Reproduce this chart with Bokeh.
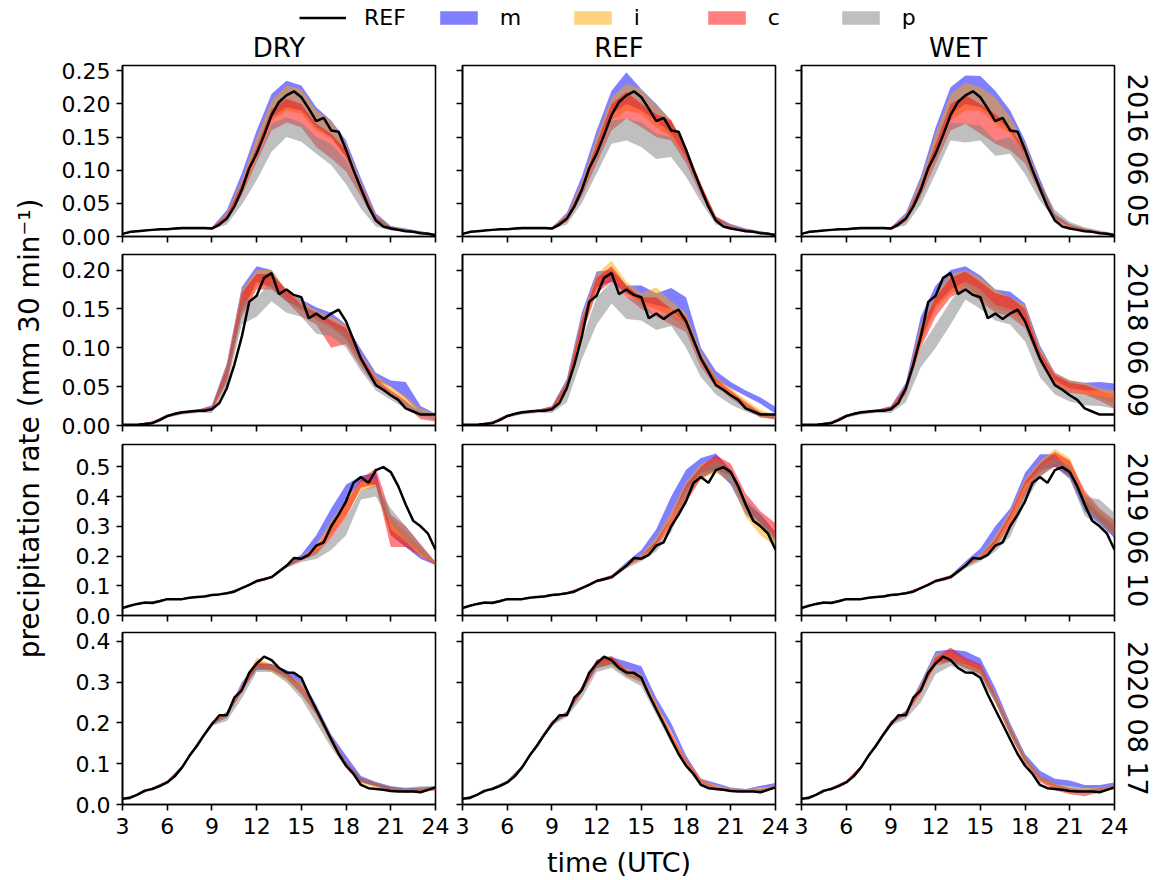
import math
from bokeh.plotting import figure
from bokeh.layouts import row, column
from bokeh.models import Range1d, FixedTicker, NumeralTickFormatter, Legend, LegendItem
from bokeh.embed import file_html
from bokeh.resources import INLINE
from bokeh.core.properties import value

FONT = "DejaVu Sans"

# ---------------- data ----------------
TIME = [3.0 + 0.5 * k for k in range(43)]          # half-hourly, 03..24 UTC
BAND_TIME = [float(h) for h in range(3, 25)]       # hourly, 03..24 UTC
X_TICKS = [3, 6, 9, 12, 15, 18, 21, 24]

EXPERIMENTS = ["DRY", "REF", "WET"]
DATES = ["2016 06 05", "2018 06 09", "2019 06 10", "2020 08 17"]
MEMBERS = ["m", "i", "c", "p"]
MEMBER_COLORS = ["#0000ff", "#ffa500", "#ff0000", "#808080"]

Y_TICKS = [[0, 0.05, 0.10, 0.15, 0.20, 0.25],
           [0, 0.05, 0.10, 0.15, 0.20],
           [0, 0.1, 0.2, 0.3, 0.4, 0.5],
           [0, 0.1, 0.2, 0.3, 0.4]]
Y_FORMATS = ["0.00", "0.00", "0.0", "0.0"]
Y_TOP = [0.258, 0.22, 0.575, 0.422]

REF_2016 = [0.004, 0.007, 0.008, 0.009, 0.010, 0.011, 0.011, 0.012, 0.013, 0.013, 0.013, 0.013, 0.012,
            0.018, 0.027, 0.045, 0.070, 0.103, 0.125, 0.153, 0.183, 0.203, 0.213, 0.219, 0.210, 0.193,
            0.174, 0.179, 0.160, 0.158, 0.131, 0.100, 0.072, 0.045, 0.024, 0.015, 0.012, 0.010, 0.008,
            0.007, 0.005, 0.004, 0.002]
REF_2018 = [0.001, 0.001, 0.001, 0.002, 0.003, 0.007, 0.012, 0.015, 0.017, 0.018, 0.019, 0.019, 0.021,
            0.029, 0.048, 0.078, 0.114, 0.159, 0.167, 0.190, 0.196, 0.169, 0.175, 0.168, 0.165, 0.138,
            0.144, 0.137, 0.144, 0.149, 0.134, 0.110, 0.086, 0.069, 0.052, 0.046, 0.039, 0.033, 0.022,
            0.018, 0.014, 0.014, 0.014]
REF_2019 = [0.025, 0.033, 0.039, 0.044, 0.042, 0.048, 0.055, 0.055, 0.055, 0.060, 0.062, 0.064, 0.069,
            0.071, 0.075, 0.080, 0.092, 0.103, 0.116, 0.122, 0.129, 0.148, 0.167, 0.193, 0.191, 0.204,
            0.235, 0.246, 0.300, 0.339, 0.384, 0.446, 0.466, 0.446, 0.489, 0.499, 0.482, 0.435, 0.373,
            0.319, 0.300, 0.275, 0.221]
REF_2020 = [0.014, 0.016, 0.024, 0.034, 0.038, 0.045, 0.054, 0.069, 0.091, 0.120, 0.144, 0.172, 0.197,
            0.219, 0.219, 0.262, 0.280, 0.323, 0.346, 0.363, 0.354, 0.335, 0.324, 0.323, 0.311, 0.270,
            0.233, 0.197, 0.160, 0.124, 0.095, 0.075, 0.048, 0.040, 0.038, 0.036, 0.033, 0.032, 0.032,
            0.032, 0.030, 0.036, 0.042]

# ensemble envelopes (min, max) at hourly resolution, per date and experiment
B2016_DRY = {
    "m": ([.003,.007,.009,.010,.011,.011,.011,.027,.070,.125,.180,.195,.190,.165,.150,.120,.072,.026,.012,.008,.005,.002],
          [.005,.009,.011,.012,.014,.014,.014,.040,.095,.160,.215,.235,.228,.195,.175,.145,.088,.035,.016,.012,.008,.004]),
    "i": ([.003,.007,.009,.010,.011,.011,.011,.026,.066,.120,.175,.190,.185,.160,.148,.120,.070,.025,.012,.008,.005,.002],
          [.005,.009,.011,.012,.014,.014,.014,.035,.085,.150,.205,.228,.222,.190,.175,.140,.082,.032,.015,.011,.007,.004]),
    "c": ([.003,.007,.009,.010,.011,.011,.011,.024,.062,.112,.160,.172,.165,.135,.118,.098,.060,.022,.010,.007,.005,.002],
          [.005,.009,.011,.012,.014,.014,.014,.032,.080,.135,.192,.208,.200,.170,.155,.130,.078,.030,.014,.010,.007,.004]),
    "p": ([.003,.007,.009,.010,.011,.011,.011,.018,.048,.085,.128,.150,.143,.125,.108,.079,.042,.015,.009,.007,.004,.002],
          [.005,.009,.010,.012,.013,.013,.013,.026,.065,.118,.170,.180,.172,.150,.140,.115,.070,.030,.015,.011,.008,.004]),
}
B2016_REF = {
    "m": ([.003,.007,.009,.010,.011,.011,.011,.026,.068,.125,.185,.200,.190,.175,.155,.120,.070,.025,.015,.009,.005,.002],
          [.005,.009,.011,.012,.014,.014,.014,.036,.090,.160,.220,.248,.222,.200,.175,.132,.076,.030,.019,.012,.008,.004]),
    "i": ([.003,.007,.009,.010,.011,.011,.011,.025,.065,.120,.175,.190,.185,.165,.150,.118,.070,.025,.013,.008,.005,.002],
          [.005,.009,.011,.012,.014,.014,.014,.033,.082,.150,.210,.230,.222,.198,.175,.135,.078,.030,.017,.011,.007,.004]),
    "c": ([.003,.007,.009,.010,.011,.011,.011,.022,.060,.110,.160,.178,.165,.150,.145,.110,.062,.022,.012,.008,.005,.002],
          [.005,.009,.011,.012,.014,.014,.014,.030,.075,.140,.200,.218,.200,.185,.175,.135,.080,.030,.016,.011,.007,.004]),
    "p": ([.003,.007,.009,.010,.011,.011,.011,.018,.050,.095,.140,.145,.135,.117,.120,.090,.052,.018,.010,.007,.004,.002],
          [.005,.009,.010,.012,.013,.013,.013,.025,.066,.120,.175,.178,.172,.155,.150,.120,.070,.026,.015,.011,.008,.004]),
}
B2016_WET = {
    "m": ([.003,.007,.009,.010,.011,.011,.011,.026,.068,.125,.185,.200,.195,.180,.160,.125,.075,.028,.015,.009,.005,.002],
          [.005,.009,.011,.012,.014,.014,.014,.036,.090,.165,.225,.243,.242,.220,.190,.145,.087,.034,.019,.012,.007,.004]),
    "i": ([.003,.007,.009,.010,.011,.011,.011,.025,.066,.120,.175,.190,.190,.170,.155,.120,.072,.027,.014,.009,.005,.002],
          [.005,.009,.011,.012,.014,.014,.014,.033,.085,.155,.215,.232,.225,.210,.180,.140,.082,.033,.018,.012,.008,.004]),
    "c": ([.003,.007,.009,.010,.011,.011,.011,.022,.060,.110,.160,.170,.155,.140,.130,.110,.065,.024,.012,.008,.005,.002],
          [.005,.009,.011,.012,.014,.014,.014,.030,.078,.140,.200,.213,.200,.185,.165,.130,.080,.032,.016,.011,.007,.004]),
    "p": ([.003,.007,.009,.010,.011,.011,.011,.017,.048,.095,.145,.142,.145,.122,.125,.094,.054,.026,.016,.011,.006,.003],
          [.005,.009,.010,.012,.013,.013,.013,.025,.066,.120,.172,.170,.168,.145,.150,.125,.082,.040,.022,.014,.009,.005]),
}

B2018_DRY = {
    "m": ([.001,.001,.003,.011,.015,.017,.020,.060,.148,.185,.178,.160,.150,.138,.128,.112,.082,.058,.050,.035,.015,.010],
          [.001,.002,.005,.014,.018,.020,.026,.080,.178,.205,.200,.172,.162,.152,.145,.130,.098,.068,.058,.056,.025,.015]),
    "i": ([.001,.001,.003,.011,.015,.017,.019,.058,.145,.180,.178,.160,.148,.135,.125,.110,.080,.055,.042,.030,.016,.010],
          [.001,.002,.005,.014,.018,.020,.024,.078,.175,.200,.200,.175,.160,.148,.140,.130,.092,.065,.050,.038,.022,.015]),
    "c": ([.001,.001,.003,.011,.015,.017,.019,.055,.140,.175,.175,.160,.140,.130,.100,.105,.075,.050,.038,.025,.008,.005],
          [.001,.002,.005,.014,.018,.020,.024,.075,.170,.195,.195,.175,.155,.145,.135,.125,.090,.060,.045,.032,.015,.010]),
    "p": ([.001,.001,.003,.010,.014,.016,.016,.050,.130,.140,.160,.145,.140,.118,.115,.100,.070,.045,.033,.022,.012,.008],
          [.001,.002,.005,.013,.017,.019,.020,.070,.160,.165,.185,.165,.155,.140,.130,.120,.085,.058,.042,.030,.018,.012]),
}
B2018_REF = {
    "m": ([.001,.001,.003,.011,.015,.017,.020,.048,.125,.178,.185,.170,.160,.155,.150,.130,.085,.058,.048,.038,.028,.015],
          [.001,.002,.005,.014,.018,.020,.025,.060,.145,.198,.200,.180,.180,.170,.177,.165,.100,.070,.056,.045,.036,.024]),
    "i": ([.001,.001,.003,.011,.015,.017,.019,.047,.120,.175,.190,.170,.155,.150,.140,.125,.080,.052,.038,.025,.012,.008],
          [.001,.002,.005,.014,.018,.020,.024,.058,.140,.195,.212,.185,.170,.178,.160,.145,.095,.063,.048,.033,.020,.014]),
    "c": ([.001,.001,.003,.011,.015,.017,.019,.045,.115,.170,.185,.165,.150,.140,.130,.120,.075,.050,.035,.022,.010,.008],
          [.001,.002,.005,.014,.018,.020,.024,.055,.135,.190,.205,.180,.165,.165,.150,.140,.090,.060,.045,.030,.017,.014]),
    "p": ([.001,.001,.003,.010,.014,.016,.016,.030,.085,.130,.157,.137,.135,.123,.128,.100,.062,.040,.027,.018,.011,.008],
          [.001,.002,.005,.013,.017,.019,.020,.045,.110,.165,.185,.165,.160,.140,.145,.130,.080,.050,.040,.026,.016,.012]),
}
B2018_WET = {
    "m": ([.001,.001,.003,.011,.015,.017,.020,.045,.110,.155,.175,.185,.175,.155,.150,.135,.090,.058,.048,.045,.045,.040],
          [.001,.002,.005,.014,.018,.020,.025,.055,.140,.180,.200,.205,.193,.175,.172,.157,.103,.068,.058,.055,.056,.054]),
    "i": ([.001,.001,.003,.011,.015,.017,.019,.042,.105,.150,.170,.180,.165,.150,.145,.130,.085,.055,.045,.040,.035,.028],
          [.001,.002,.005,.014,.018,.020,.024,.052,.130,.170,.195,.200,.190,.175,.165,.155,.100,.068,.058,.055,.048,.045]),
    "c": ([.001,.001,.003,.011,.015,.017,.019,.040,.100,.140,.165,.175,.160,.145,.140,.125,.080,.050,.042,.040,.032,.022],
          [.001,.002,.005,.014,.018,.020,.024,.050,.125,.165,.190,.198,.185,.170,.165,.150,.095,.065,.055,.052,.045,.040]),
    "p": ([.001,.001,.003,.010,.014,.016,.016,.030,.075,.100,.130,.162,.150,.135,.130,.108,.062,.040,.031,.026,.025,.022],
          [.001,.002,.005,.013,.017,.019,.020,.045,.100,.130,.160,.185,.175,.155,.150,.130,.085,.055,.045,.040,.038,.035]),
}

B2019_DRY = {
    "m": ([.025,.039,.043,.054,.055,.061,.067,.073,.088,.110,.125,.162,.190,.235,.300,.390,.450,.440,.270,.230,.190,.170],
          [.027,.042,.047,.057,.058,.064,.070,.077,.094,.118,.133,.172,.205,.270,.360,.440,.470,.480,.290,.250,.200,.175]),
    "i": ([.025,.039,.043,.054,.055,.061,.067,.073,.090,.113,.127,.163,.185,.210,.270,.340,.420,.430,.270,.240,.200,.170],
          [.027,.042,.047,.057,.058,.064,.070,.077,.094,.119,.133,.170,.195,.240,.320,.390,.450,.460,.330,.280,.230,.180]),
    "c": ([.025,.040,.044,.054,.055,.061,.067,.073,.090,.112,.127,.162,.185,.205,.260,.330,.430,.440,.230,.230,.200,.170],
          [.028,.043,.048,.058,.059,.065,.071,.078,.095,.120,.134,.170,.195,.230,.300,.380,.460,.495,.340,.300,.240,.180]),
    "p": ([.024,.038,.042,.053,.054,.060,.066,.072,.088,.110,.125,.160,.180,.190,.220,.270,.390,.400,.310,.255,.210,.170],
          [.027,.041,.046,.057,.058,.064,.070,.077,.094,.118,.132,.168,.190,.215,.260,.330,.420,.440,.360,.300,.240,.180]),
}
B2019_REF = {
    "m": ([.025,.040,.043,.055,.056,.062,.068,.074,.092,.115,.128,.170,.200,.240,.330,.420,.480,.490,.440,.340,.300,.250],
          [.028,.043,.047,.058,.059,.065,.072,.078,.096,.120,.135,.180,.220,.290,.400,.490,.530,.545,.490,.380,.340,.280]),
    "i": ([.025,.040,.043,.055,.056,.062,.068,.074,.092,.115,.128,.165,.192,.235,.310,.390,.460,.480,.450,.330,.270,.230],
          [.028,.043,.047,.058,.059,.065,.072,.078,.096,.120,.135,.175,.205,.265,.350,.450,.510,.530,.490,.380,.330,.280]),
    "c": ([.025,.040,.043,.055,.056,.062,.068,.074,.092,.115,.128,.165,.190,.230,.300,.380,.460,.490,.470,.360,.310,.260],
          [.028,.043,.047,.058,.059,.065,.072,.078,.096,.120,.135,.172,.200,.250,.330,.440,.500,.540,.510,.410,.350,.310]),
    "p": ([.024,.038,.041,.053,.054,.060,.066,.071,.088,.110,.122,.158,.182,.215,.280,.400,.465,.485,.445,.360,.310,.230],
          [.027,.041,.045,.057,.058,.064,.070,.076,.094,.118,.130,.168,.192,.235,.300,.430,.490,.520,.490,.390,.340,.260]),
}
B2019_WET = {
    "m": ([.025,.040,.043,.055,.056,.062,.068,.074,.092,.115,.128,.170,.200,.245,.330,.440,.490,.500,.460,.350,.310,.260],
          [.028,.043,.047,.058,.059,.065,.072,.078,.096,.120,.135,.182,.225,.300,.360,.480,.542,.542,.490,.390,.340,.300]),
    "i": ([.025,.040,.043,.055,.056,.062,.068,.074,.092,.115,.128,.165,.192,.235,.310,.410,.480,.510,.480,.370,.320,.270],
          [.028,.043,.047,.058,.059,.065,.072,.078,.096,.120,.135,.175,.205,.270,.350,.460,.520,.560,.530,.410,.350,.310]),
    "c": ([.025,.040,.043,.055,.056,.062,.068,.074,.092,.115,.128,.165,.190,.230,.300,.400,.470,.500,.470,.370,.320,.270],
          [.028,.043,.047,.058,.059,.065,.072,.078,.096,.120,.135,.172,.200,.255,.340,.450,.510,.550,.520,.420,.360,.320]),
    "p": ([.024,.038,.041,.053,.054,.060,.066,.071,.088,.110,.122,.158,.182,.215,.265,.380,.465,.505,.460,.335,.300,.265],
          [.027,.041,.045,.057,.058,.064,.070,.076,.094,.118,.130,.168,.195,.240,.300,.420,.500,.530,.500,.400,.390,.345]),
}

B2020_DRY = {
    "m": ([.013,.022,.038,.054,.090,.145,.195,.213,.280,.330,.330,.315,.290,.225,.155,.095,.055,.045,.036,.032,.035,.038],
          [.016,.025,.042,.058,.095,.150,.202,.222,.300,.345,.345,.330,.310,.245,.172,.120,.070,.055,.045,.040,.042,.045]),
    "i": ([.013,.022,.038,.054,.090,.145,.195,.215,.275,.335,.325,.305,.275,.220,.150,.090,.050,.042,.034,.030,.032,.035],
          [.016,.025,.042,.058,.095,.150,.202,.225,.295,.360,.345,.320,.300,.240,.168,.105,.062,.050,.040,.037,.040,.040]),
    "c": ([.013,.022,.038,.054,.090,.145,.197,.220,.275,.335,.330,.310,.270,.220,.150,.090,.055,.045,.035,.028,.030,.035],
          [.016,.025,.042,.058,.095,.150,.204,.228,.290,.350,.345,.325,.290,.240,.165,.105,.065,.052,.042,.036,.038,.042]),
    "p": ([.013,.022,.037,.052,.088,.140,.193,.205,.260,.325,.325,.300,.260,.200,.140,.090,.055,.045,.035,.032,.035,.035],
          [.016,.025,.041,.056,.094,.147,.200,.220,.280,.340,.345,.320,.290,.230,.160,.105,.065,.055,.045,.042,.045,.045]),
}
B2020_REF = {
    "m": ([.013,.022,.038,.054,.090,.145,.197,.220,.275,.335,.345,.330,.315,.245,.180,.108,.058,.046,.038,.036,.040,.045],
          [.016,.025,.042,.058,.095,.150,.205,.228,.290,.355,.362,.351,.339,.262,.200,.120,.063,.053,.042,.038,.046,.053]),
    "i": ([.013,.022,.038,.054,.090,.145,.197,.220,.275,.335,.340,.315,.305,.235,.165,.100,.055,.040,.034,.032,.034,.040],
          [.016,.025,.042,.058,.095,.150,.205,.228,.290,.350,.360,.335,.320,.250,.180,.112,.063,.046,.040,.038,.040,.047]),
    "c": ([.013,.022,.038,.054,.090,.145,.197,.220,.275,.335,.345,.315,.300,.230,.160,.100,.050,.035,.032,.030,.032,.040],
          [.016,.025,.042,.058,.095,.150,.205,.228,.290,.355,.365,.330,.315,.245,.175,.110,.060,.045,.038,.036,.038,.046]),
    "p": ([.013,.022,.037,.052,.088,.140,.193,.215,.260,.325,.335,.310,.290,.220,.150,.090,.045,.036,.032,.032,.032,.038],
          [.016,.025,.041,.056,.094,.147,.200,.225,.275,.345,.350,.330,.310,.235,.165,.100,.055,.042,.038,.036,.038,.045]),
}
B2020_WET = {
    "m": ([.013,.022,.038,.054,.090,.145,.197,.220,.280,.350,.350,.345,.330,.260,.180,.110,.068,.050,.045,.040,.040,.045],
          [.016,.025,.042,.058,.095,.150,.205,.230,.300,.376,.380,.376,.359,.286,.200,.124,.083,.063,.059,.048,.048,.054]),
    "i": ([.013,.022,.038,.054,.090,.145,.197,.220,.275,.345,.350,.335,.320,.255,.175,.105,.060,.040,.033,.030,.032,.040],
          [.016,.025,.042,.058,.095,.150,.205,.228,.295,.370,.375,.355,.340,.275,.195,.120,.072,.050,.042,.040,.042,.046]),
    "c": ([.013,.022,.038,.054,.090,.145,.197,.220,.270,.340,.350,.335,.320,.250,.170,.100,.055,.035,.025,.020,.030,.038],
          [.016,.025,.042,.058,.095,.150,.205,.228,.290,.360,.385,.360,.345,.270,.190,.115,.070,.050,.040,.035,.040,.046]),
    "p": ([.013,.022,.037,.052,.088,.140,.193,.210,.250,.320,.340,.330,.310,.250,.170,.105,.060,.045,.035,.032,.032,.040],
          [.016,.025,.041,.056,.094,.147,.200,.222,.270,.340,.360,.345,.330,.270,.190,.120,.070,.055,.045,.040,.040,.045]),
}

REF_LINES = [REF_2016, REF_2018, REF_2019, REF_2020]
BANDS = [[B2016_DRY, B2016_REF, B2016_WET],
         [B2018_DRY, B2018_REF, B2018_WET],
         [B2019_DRY, B2019_REF, B2019_WET],
         [B2020_DRY, B2020_REF, B2020_WET]]

# ---------------- layout (pixels, page origin at top-left) ----------------
FRAME_W = 313
FRAME_TOP = [65, 254, 444, 632]
FRAME_H = [171, 171, 171, 172]
BORDER_L = [66, 13, 12]
BORDER_R = [14, 14, 14]
BORDER_T = [10, 16, 16, 16]
BORDER_B = [16, 16, 16, 40]
LEFT_W = 56
TOP_H = 63
RIGHT_X0 = 1123
PAGE_W, PAGE_H = 1156, 880
TICK_FONT = "22px"

CANVAS_TOP = [FRAME_TOP[r] - BORDER_T[r] for r in range(4)]
CANVAS_BOT = [FRAME_TOP[r] + FRAME_H[r] + BORDER_B[r] for r in range(4)]
STACK_TOP, STACK_BOT = CANVAS_TOP[0], CANVAS_BOT[3]
STACK_H = STACK_BOT - STACK_TOP
GRID_RIGHT = LEFT_W + sum(BORDER_L) + 3 * FRAME_W + sum(BORDER_R)


def bare(width, height, **kw):
    f = figure(width=width, height=height, x_range=Range1d(0, width), y_range=Range1d(0, height),
               x_axis_type=None, y_axis_type=None, output_backend="svg", toolbar_location=None,
               min_border=0, outline_line_color=None, **kw)
    f.background_fill_alpha = 0
    f.border_fill_alpha = 0
    return f


def panel(r, c):
    p = figure(frame_width=FRAME_W, frame_height=FRAME_H[r],
               x_range=Range1d(3, 24), y_range=Range1d(0, Y_TOP[r]),
               output_backend="svg", toolbar_location=None,
               min_border_left=BORDER_L[c], min_border_right=BORDER_R[c],
               min_border_top=BORDER_T[r], min_border_bottom=BORDER_B[r])
    p.background_fill_color = "white"
    p.border_fill_alpha = 0
    p.grid.visible = False
    p.outline_line_color = "black"
    p.outline_line_width = 1.6
    p.outline_line_alpha = 1.0
    for m, col in zip(MEMBERS, MEMBER_COLORS):
        lo, hi = BANDS[r][c][m]
        p.varea(x=BAND_TIME, y1=lo, y2=hi, fill_color=col, fill_alpha=0.5)
    p.line(x=TIME, y=REF_LINES[r], line_color="black", line_width=2.5)

    p.xaxis.ticker = FixedTicker(ticks=X_TICKS)
    p.yaxis.ticker = FixedTicker(ticks=Y_TICKS[r])
    p.yaxis.formatter = NumeralTickFormatter(format=Y_FORMATS[r])
    for ax in (p.xaxis[0], p.yaxis[0]):
        ax.axis_line_color = "black"
        ax.axis_line_width = 1.6
        ax.major_tick_line_color = "black"
        ax.major_tick_line_width = 1.6
        ax.major_tick_in = 0
        ax.major_tick_out = 6
        ax.minor_tick_line_color = None
        ax.major_label_text_font = FONT
        ax.major_label_text_font_size = TICK_FONT
        ax.major_label_text_color = "black"
    p.xaxis.major_label_standoff = 7
    p.yaxis.major_label_standoff = 6
    if r < 3:
        p.xaxis.major_label_overrides = {t: "" for t in X_TICKS}
        p.xaxis.major_label_text_font_size = "0px"
        p.xaxis.major_label_standoff = 0
    if c > 0:
        p.yaxis.major_label_overrides = {t: "" for t in Y_TICKS[r]}
        p.yaxis.major_label_text_font_size = "0px"
        p.yaxis.major_label_standoff = 0
    return p


grid_rows = []
for r in range(4):
    mt = 0 if r == 0 else CANVAS_TOP[r] - CANVAS_BOT[r - 1]   # negative: canvases overlap (transparent borders)
    grid_rows.append(row(*[panel(r, c) for c in range(3)], margin=(mt, 0, 0, 0)))
stack = column(*grid_rows)

# top strip: legend + column titles
top = bare(PAGE_W, TOP_H)
r_ref = top.line(x=[-20, -10], y=[-20, -20], line_color="black", line_width=2.5)
r_mem = [top.varea(x=[-20, -10], y1=[-20, -20], y2=[-15, -15], fill_color=col, fill_alpha=0.5)
         for col in MEMBER_COLORS]
items = [LegendItem(label="REF", renderers=[r_ref])] + \
        [LegendItem(label=m, renderers=[rr]) for m, rr in zip(MEMBERS, r_mem)]
legend = Legend(items=items, orientation="horizontal", location=(299, 33),
                glyph_width=47, glyph_height=17, label_standoff=18, label_width=40, spacing=29,
                padding=0, margin=0, border_line_color=None, background_fill_alpha=0,
                label_text_font=FONT, label_text_font_size="22px", label_text_color="black",
                label_height=17)
top.add_layout(legend)
col_centers = []
x0 = LEFT_W
for c in range(3):
    col_centers.append(x0 + BORDER_L[c] + FRAME_W / 2)
    x0 += BORDER_L[c] + FRAME_W + BORDER_R[c]
top.text(x=col_centers, y=[TOP_H - 47] * 3, text=EXPERIMENTS, text_font=value(FONT),
         text_font_size="26px", text_align="center", text_baseline="middle", text_color="black")

# left strip: shared y label
left = bare(LEFT_W, STACK_H)
left.text(x=[29], y=[STACK_BOT - 428], text=["precipitation rate (mm 30 min\u207b\u00b9)"],
          text_font=value(FONT), text_font_size="28px", text_align="center",
          text_baseline="middle", angle=math.pi / 2, text_color="black")

# right strip: date of each row
RIGHT_W = PAGE_W - RIGHT_X0
right = bare(RIGHT_W, STACK_H, margin=(0, 0, 0, RIGHT_X0 - GRID_RIGHT))
right.text(x=[1137 - RIGHT_X0] * 4,
           y=[STACK_BOT - (FRAME_TOP[r] + FRAME_H[r] / 2) for r in range(4)],
           text=DATES, text_font=value(FONT), text_font_size="27px",
           text_align="center", text_baseline="middle", angle=-math.pi / 2, text_color="black")

middle = row(left, stack, right, margin=(STACK_TOP - TOP_H, 0, 0, 0))

# bottom strip: shared x label
BOTTOM_H = PAGE_H - STACK_BOT
bottom = bare(PAGE_W, BOTTOM_H)
bottom.text(x=[col_centers[1]], y=[BOTTOM_H - 17.5], text=["time (UTC)"], text_font=value(FONT),
            text_font_size="27px", text_align="center", text_baseline="middle", text_color="black")

layout = column(top, middle, bottom)

open("out.html", "w").write(file_html(layout, INLINE))
